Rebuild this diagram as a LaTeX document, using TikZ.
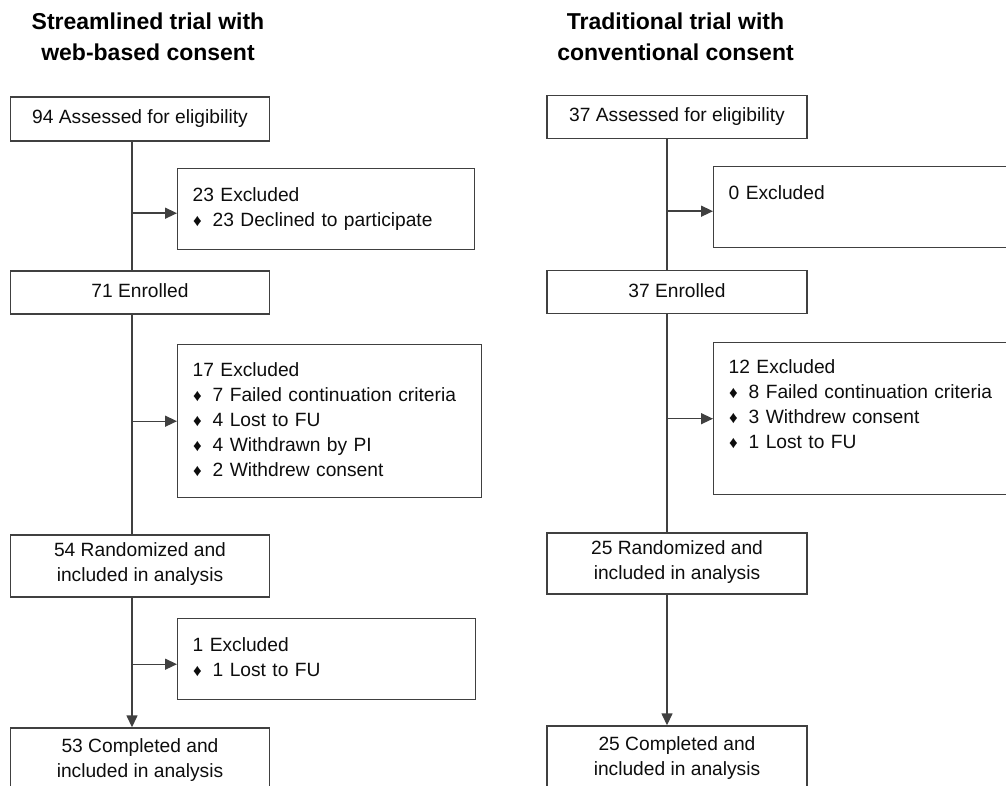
\documentclass[tikz,border=0pt]{standalone}
\usepackage{fontspec}
\setmainfont{Liberation Sans}
\usetikzlibrary{arrows.meta,calc}
\newcommand\bul{\makebox[20pt][l]{\hspace{0.5pt}\raisebox{0pt}{\fontsize{17}{17}\selectfont ♦}}}
\begin{document}
\begin{tikzpicture}[x=1pt,y=-1pt,
  box/.style={draw=black!75, line width=1.4pt, rectangle, inner sep=0pt,
    font=\fontsize{19.2}{25}\selectfont, text=black!95, align=center,
    execute at begin node=\strut, execute at end node=\strut},
  mainbox/.style={box, minimum width=259pt},
  exbox/.style={box, align=left, inner xsep=15pt, anchor=north west},
  title/.style={font=\fontsize{23}{31}\selectfont\bfseries, align=center, text=black,
    execute at begin node=\strut, execute at end node=\strut, inner sep=0pt},
  conn/.style={draw=black!75, line width=1.4pt},
  arr/.style={conn, -{Triangle[length=12pt,width=11pt]}}
]
\useasboundingbox (0,0) rectangle (1006,786);
\clip (0,0) rectangle (1006,786);

% titles
\node[title] (T1) at (148,41.8) {Streamlined trial with\\web-based consent};
\node[title] (T2) at (675.5,41.8) {Traditional trial with\\conventional consent};

% left column
\node[mainbox, minimum height=44pt] (A1) at (140,119) {94 Assessed for eligibility};
\node[exbox, text width=267pt, minimum height=81pt] (E1) at (177,168)
  {23 Excluded\\\bul 23 Declined to participate};
\node[mainbox, minimum height=43pt] (N1) at (140,292.5) {71 Enrolled};
\node[exbox, text width=274pt, minimum height=153pt] (E2) at (177,344)
  {17 Excluded\\\bul 7 Failed continuation criteria\\\bul 4 Lost to FU\\\bul 4 Withdrawn by PI\\\bul 2 Withdrew consent};
\node[mainbox, minimum height=62pt] (R1) at (140,566) {54 Randomized and\\included in analysis};
\node[exbox, text width=268pt, minimum height=81pt] (E3) at (177,618)
  {1 Excluded\\\bul 1 Lost to FU};
\node[mainbox, minimum height=68pt] (C1) at (140,762) {53 Completed and\\included in analysis};

% right column
\node[mainbox, minimum width=260pt, minimum height=43pt] (A2) at (677,117) {37 Assessed for eligibility};
\node[exbox, text width=270pt, minimum height=81pt] (E4) at (713,166)
  {0 Excluded\\\mbox{}};
\node[mainbox, minimum width=260pt, minimum height=43pt] (N2) at (677,292) {37 Enrolled};
\node[exbox, text width=270pt, minimum height=152pt] (E5) at (713,342)
  {12 Excluded\\\bul 8 Failed continuation criteria\\\bul 3 Withdrew consent\\\bul 1 Lost to FU\\\mbox{}};
\node[mainbox, minimum width=260pt, minimum height=61pt] (R2) at (677,563.5) {25 Randomized and\\included in analysis};
\node[mainbox, minimum width=260pt, minimum height=68pt] (C2) at (677,760) {25 Completed and\\included in analysis};

% spines
\coordinate (sL) at (132,0);
\coordinate (sR) at (667,0);

\draw[conn] (A1.south -| sL) -- (N1.north -| sL);
\draw[arr] ([yshift=-4pt]E1.west -| sL) -- ([yshift=-4pt]E1.west);
\draw[conn] (N1.south -| sL) -- (R1.north -| sL);
\draw[arr] (E2.west -| sL) -- (E2.west);
\draw[arr] (R1.south -| sL) -- (C1.north -| sL);
\draw[arr] ([yshift=-5pt]E3.west -| sL) -- ([yshift=-5pt]E3.west);

\draw[conn] (A2.south -| sR) -- (N2.north -| sR);
\draw[arr] ([yshift=-4pt]E4.west -| sR) -- ([yshift=-4pt]E4.west);
\draw[conn] (N2.south -| sR) -- (R2.north -| sR);
\draw[arr] (E5.west -| sR) -- (E5.west);
\draw[arr] (R2.south -| sR) -- (C2.north -| sR);
\end{tikzpicture}
\end{document}
